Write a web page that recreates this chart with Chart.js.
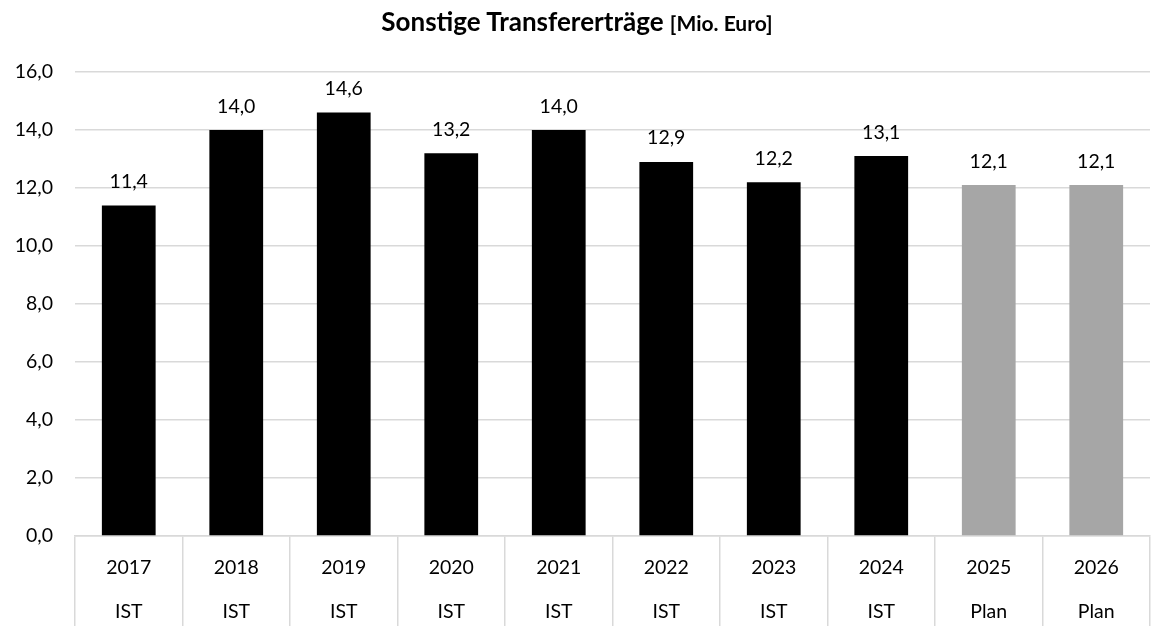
<!DOCTYPE html>
<html>
<head>
<meta charset="utf-8">
<script src="https://cdn.jsdelivr.net/npm/chart.js@4/dist/chart.umd.min.js"></script>
<style>
  html, body { margin: 0; padding: 0; background: #fff; }
  #wrap { position: relative; width: 1154px; height: 626px; }
  #title {
    position: absolute; left: 0; right: 0; top: 5px;
    text-align: center; font-family: Lato, "Open Sans", sans-serif;
    font-weight: bold; font-size: 26px; color: #000;
  }
  #title span { font-size: 21px; }
</style>
</head>
<body>
<div id="wrap">
  <div id="title">Sonstige Transfererträge <span>[Mio. Euro]</span></div>
  <canvas id="transferChart" width="1154" height="626"></canvas>
</div>
<script>
// data
const years = ['2017', '2018', '2019', '2020', '2021', '2022', '2023', '2024', '2025', '2026'];
const types = ['IST', 'IST', 'IST', 'IST', 'IST', 'IST', 'IST', 'IST', 'Plan', 'Plan'];
const values = [11.4, 14.0, 14.6, 13.2, 14.0, 12.9, 12.2, 13.1, 12.1, 12.1];
const yTicks = [0, 2, 4, 6, 8, 10, 12, 14, 16];

const fontFamily = 'Lato, "Open Sans", sans-serif';
const fmt = v => v.toLocaleString('de-DE', {minimumFractionDigits: 1, maximumFractionDigits: 1});

// value labels above the bars
const valueLabels = {
    id: 'valueLabels',
    afterDatasetsDraw(chart) {
        const ctx = chart.ctx;
        const meta = chart.getDatasetMeta(0);
        ctx.save();
        ctx.font = '19.5px ' + fontFamily;
        ctx.fillStyle = '#000';
        ctx.textAlign = 'center';
        ctx.textBaseline = 'bottom';
        meta.data.forEach((bar, i) => {
            ctx.fillText(fmt(values[i]), bar.x, bar.y - 14);
        });
        ctx.restore();
    }
};

document.addEventListener('DOMContentLoaded', function() {
    const ctx = document.getElementById('transferChart');
    new Chart(ctx, {
        type: 'bar',
        data: {
            labels: years.map((y, i) => [y, types[i]]),
            datasets: [{
                data: values,
                backgroundColor: types.map(t => t === 'Plan' ? '#a6a6a6' : '#000000'),
                barPercentage: 0.5,
                categoryPercentage: 1.0
            }]
        },
        options: {
            responsive: false,
            animation: false,
            layout: { padding: { top: 72, right: 4, left: 0, bottom: 0 } },
            plugins: {
                legend: { display: false },
                tooltip: { enabled: false },
                title: { display: false }
            },
            scales: {
                x: {
                    grid: {
                        offset: true,
                        drawOnChartArea: false,
                        drawTicks: true,
                        tickLength: 90,
                        color: '#d9d9d9',
                        lineWidth: 1.5
                    },
                    border: { color: '#d9d9d9', width: 1.5 },
                    ticks: {
                        color: '#000',
                        font: { family: fontFamily, size: 19.5, lineHeight: 2.26 },
                        padding: -80,
                        maxRotation: 0,
                        autoSkip: false
                    },
                    afterFit: scale => { scale.height = 90; }
                },
                y: {
                    min: 0,
                    max: 16,
                    afterBuildTicks: scale => { scale.ticks = yTicks.map(v => ({value: v})); },
                    grid: { color: '#d9d9d9', lineWidth: 1.5, drawTicks: false },
                    border: { display: false },
                    ticks: {
                        color: '#000',
                        font: { family: fontFamily, size: 19.5 },
                        padding: 22,
                        callback: v => fmt(v)
                    },
                    afterFit: scale => { scale.width = 75; }
                }
            }
        },
        plugins: [valueLabels]
    });
});
</script>
</body>
</html>
